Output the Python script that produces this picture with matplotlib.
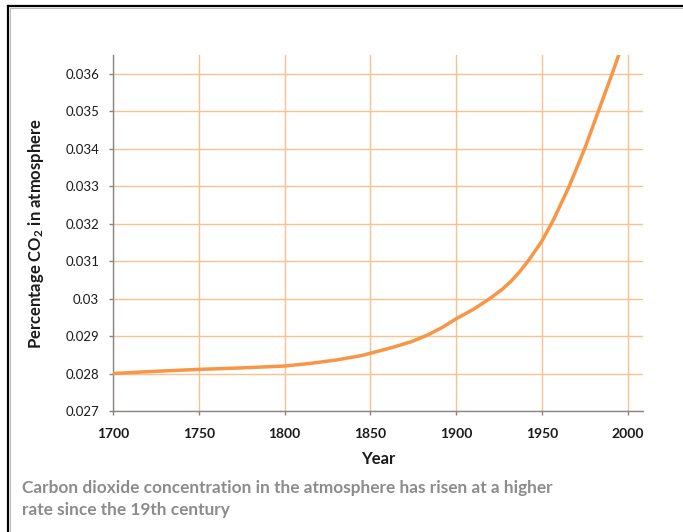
import matplotlib
matplotlib.use("Agg")
import matplotlib.pyplot as plt
from matplotlib.lines import Line2D

plt.rcParams['font.family'] = ['Lato', 'DejaVu Sans']
plt.rcParams['mathtext.fontset'] = 'custom'
plt.rcParams['mathtext.rm'] = 'Lato:bold'
plt.rcParams['mathtext.default'] = 'rm'

years = [1700, 1725, 1750, 1775, 1800, 1815, 1830, 1845, 1855, 1864, 1874,
         1883, 1892, 1900, 1910, 1920, 1927, 1932, 1937, 1942, 1950, 1957,
         1966, 1975, 1983, 1991, 1996]
co2 = [0.02800, 0.02806, 0.02811, 0.02815, 0.02820, 0.02827, 0.02836, 0.02848,
       0.02860, 0.02871, 0.02885, 0.02902, 0.02923, 0.02946, 0.02971, 0.03001,
       0.03025, 0.03046, 0.03071, 0.03100, 0.03153, 0.03212, 0.03300, 0.03400,
       0.03500, 0.03600, 0.03665]

xticks = [1700, 1750, 1800, 1850, 1900, 1950, 2000]
yticks = [0.027, 0.028, 0.029, 0.03, 0.031, 0.032, 0.033, 0.034, 0.035, 0.036]
ytick_labels = ['0.027', '0.028', '0.029', '0.03', '0.031', '0.032', '0.033',
                '0.034', '0.035', '0.036']

W, H = 683, 532
fig = plt.figure(figsize=(W / 100, H / 100), dpi=100)
fig.patch.set_facecolor('white')

left, right, top, bottom = 113, 643, 55, 411
ax = fig.add_axes([left / W, 1 - bottom / H, (right - left) / W, (bottom - top) / H])

ax.set_xlim(1700, 2009)
ax.set_ylim(0.027, 0.0365)

ax.plot(years, co2, color='#F79646', lw=2.5, solid_capstyle='round',
        solid_joinstyle='round', zorder=3)

ax.set_xticks(xticks)
ax.set_xticklabels([str(x) for x in xticks], fontsize=10, fontweight='bold', color='#1a1a1a')
ax.set_yticks(yticks)
ax.set_yticklabels(ytick_labels, fontsize=9.5, color='#1a1a1a')

ax.grid(True, color='#FAC090', lw=1.0, zorder=1)
ax.set_axisbelow(True)
for s in ['top', 'right']:
    ax.spines[s].set_visible(False)
for s in ['left', 'bottom']:
    ax.spines[s].set_color('#868686')
    ax.spines[s].set_linewidth(1.0)
    ax.spines[s].set_zorder(2)
ax.tick_params(axis='both', direction='out', length=3, width=1, color='#868686')
ax.tick_params(axis='x', pad=9)
ax.tick_params(axis='y', pad=7)

ax.set_xlabel('Year', fontsize=12, fontweight='bold', color='#1a1a1a', labelpad=8)
ax.set_ylabel('Percentage CO$_2$ in atmosphere', fontsize=12, fontweight='bold',
              color='#1a1a1a', labelpad=14)

fig.text(22 / W, 1 - 488 / H, 'Carbon dioxide concentration in the atmosphere has risen at a higher',
         fontsize=12.4, fontweight='bold', color='#8C8C8C', va='center', ha='left')
fig.text(22 / W, 1 - 510 / H, 'rate since the 19th century',
         fontsize=12.4, fontweight='bold', color='#8C8C8C', va='center', ha='left')

# outer frame (top and left edges)
fig.add_artist(Line2D([8 / W, 1.0], [1 - 6 / H, 1 - 6 / H], color='#000000', lw=1.6))
fig.add_artist(Line2D([8 / W, 8 / W], [0.0, 1 - 6 / H], color='#000000', lw=1.6))
fig.add_artist(Line2D([10 / W, 1.0], [1 - 8 / H, 1 - 8 / H], color='#BBBBBB', lw=0.8))
fig.add_artist(Line2D([10 / W, 10 / W], [0.0, 1 - 8 / H], color='#BBBBBB', lw=0.8))

fig.savefig('out.png', dpi=100)
